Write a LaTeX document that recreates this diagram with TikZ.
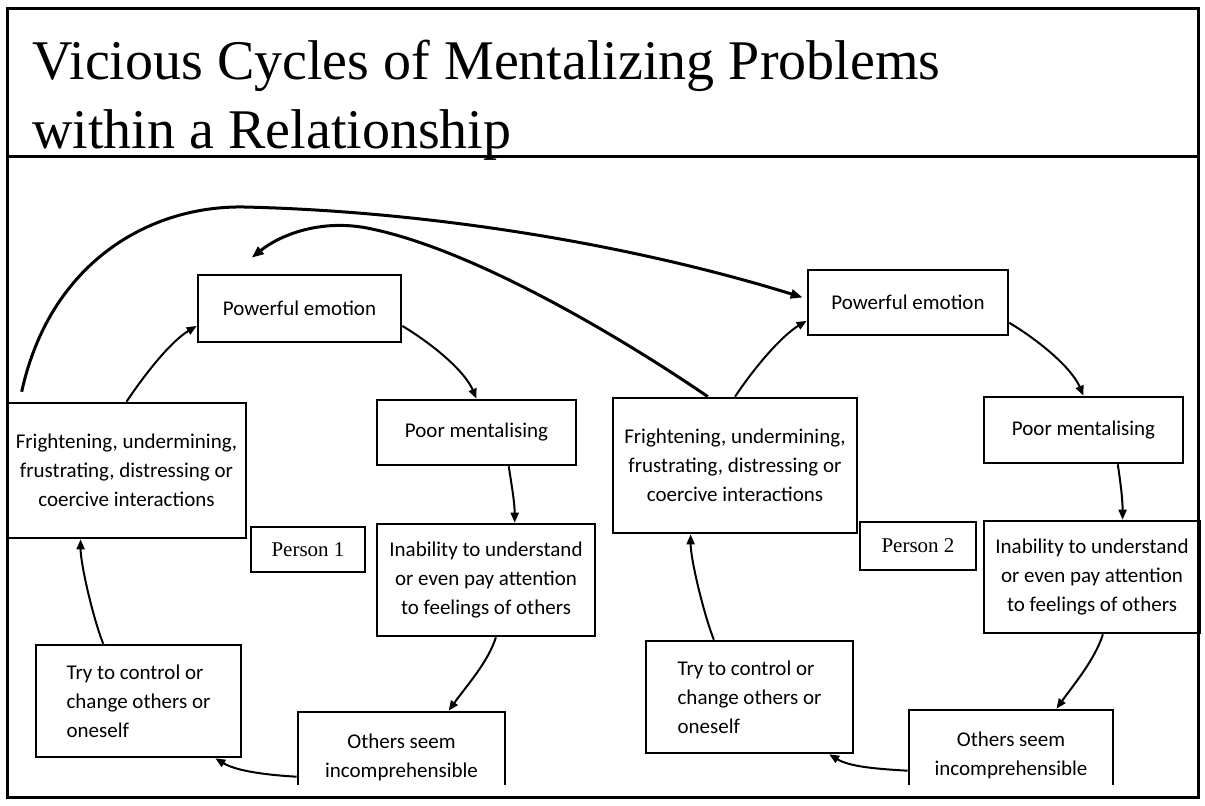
\documentclass[tikz,border=0pt]{standalone}
\usepackage{fontspec}
\setmainfont{Liberation Serif}
\newfontfamily\boxfont{Carlito}
\usetikzlibrary{arrows.meta,calc}

\tikzset{
	frame/.style={line width=1.5pt},
	box/.style={draw, line width=1.3pt, inner sep=0pt, align=center,
		font=\boxfont\fontsize{10.5}{14.5}\selectfont},
	tag/.style={draw, line width=1.3pt, inner sep=0pt, font=\fontsize{10.5}{12}\selectfont},
	link/.style={line width=1pt, -{Triangle[length=5pt,width=4pt]}},
	cross/.style={line width=1.5pt, -{Triangle[length=6pt,width=4.5pt]}}
}

\begin{document}
\begin{tikzpicture}[x=0.5pt,y=-0.5pt]
	\useasboundingbox (0,0) rectangle (1205,805);
	\draw [frame] (7,8) rectangle (1198,797);
	\draw [frame] (7,156) -- (1198,156);
	\node [anchor=north west, inner sep=0pt, align=left, font=\fontsize{28}{34.5}\selectfont] (title) at (32,40)
		{Vicious Cycles of Mentalizing Problems\\within a Relationship};

	% person 1
	\node [box, minimum width=101.5pt, minimum height=33.5pt] (pe1) at (299.5,308.5) {Powerful emotion};
	\node [box, minimum width=99.5pt, minimum height=32.5pt] (pm1) at (476.5,432.5) {Poor mentalising};
	\node [box, minimum width=119.5pt, minimum height=67.5pt] (fr1) at (126.5,470.5) {Frightening, undermining,\\frustrating, distressing or\\coercive interactions};
	\node [tag, minimum width=57pt, minimum height=22.5pt] (per1) at (308,549.5) {Person 1};
	\node [box, minimum width=109pt, minimum height=56pt] (ina1) at (486,580) {Inability to understand\\or even pay attention\\to feelings of others};
	\node [box, align=left, minimum width=102.5pt, minimum height=56pt] (try1) at (138.5,701) {Try to control or\\change others or\\oneself};

	% person 2
	\node [box, minimum width=100pt, minimum height=32.5pt] (pe2) at (908,302.5) {Powerful emotion};
	\node [box, minimum width=99.5pt, minimum height=33pt] (pm2) at (1083.5,430) {Poor mentalising};
	\node [box, minimum width=122pt, minimum height=67.5pt] (fr2) at (735,465.5) {Frightening, undermining,\\frustrating, distressing or\\coercive interactions};
	\node [tag, minimum width=58pt, minimum height=24pt] (per2) at (918,546) {Person 2};
	\node [box, minimum width=108pt, minimum height=56pt] (ina2) at (1092,577) {Inability to understand\\or even pay attention\\to feelings of others};
	\node [box, align=left, minimum width=103.5pt, minimum height=56pt] (try2) at (749.5,697) {Try to control or\\change others or\\oneself};

	% bottom boxes run off the slide
	\begin{scope}
		\clip (7,156) rectangle (1198,784);
		\node [box, minimum width=103.5pt, minimum height=45pt] (oth1) at (401.5,757) {Others seem\\incomprehensible};
		\node [box, minimum width=102pt, minimum height=45pt] (oth2) at (1011,755) {Others seem\\incomprehensible};
	\end{scope}

	% cycle 1
	\draw [link] (fr1.north) .. controls +(20,-30) and +(-25,15) .. ($(pe1.north west)!0.75!(pe1.south west)$);
	\draw [link] ($(pe1.north east)!0.75!(pe1.south east)$) .. controls +(30,18) and +(-12,-28) .. (pm1.north);
	\draw [link] ($(pm1.south west)!0.66!(pm1.south east)$) .. controls +(3,20) and +(0,-20) .. ($(ina1.north west)!0.63!(ina1.north east)$);
	\draw [link] ($(ina1.south west)!0.545!(ina1.south east)$) .. controls +(-8,25) and +(18,-25) .. ($(oth1.north west)!0.725!(oth1.north east)$);
	\draw [link] ($(oth1.north west)+(0,66)$) .. controls +(-35,-2) and +(20,12) .. ($(try1.south west)!0.87!(try1.south east)$);
	\draw [link] ($(try1.north west)!0.33!(try1.north east)$) .. controls +(-10,-25) and +(0,25) .. ($(fr1.south west)!0.31!(fr1.south east)$);

	% cycle 2
	\draw [link] (fr2.north) .. controls +(20,-30) and +(-25,15) .. ($(pe2.north west)!0.77!(pe2.south west)$);
	\draw [link] ($(pe2.north east)!0.8!(pe2.south east)$) .. controls +(30,18) and +(-12,-28) .. (pm2.north);
	\draw [link] ($(pm2.south west)!0.67!(pm2.south east)$) .. controls +(3,20) and +(0,-20) .. ($(ina2.north west)!0.64!(ina2.north east)$);
	\draw [link] ($(ina2.south west)!0.55!(ina2.south east)$) .. controls +(-8,25) and +(18,-25) .. ($(oth2.north west)!0.72!(oth2.north east)$);
	\draw [link] ($(oth2.north west)+(0,62)$) .. controls +(-35,-2) and +(20,12) .. ($(try2.south west)!0.88!(try2.south east)$);
	\draw [link] ($(try2.north west)!0.33!(try2.north east)$) .. controls +(-10,-25) and +(0,25) .. ($(fr2.south west)!0.32!(fr2.south east)$);

	% between the two persons
	\coordinate (out1) at ($(fr1.north west)+(16,-10)$);
	\coordinate (in1) at ($(pe1.north west)+(55,-16)$);
	\draw [cross] (out1) .. controls (50,262) and (150,205) .. (245,207)
		.. controls (450,212) and (650,250) .. ($(pe2.west)+(-4,-5)$);
	\draw [cross] ($(fr2.north west)!0.39!(fr2.north east)$) .. controls (640,350) and (480,250) .. (367,228)
		.. controls (320,219) and (280,235) .. (in1);
\end{tikzpicture}
\end{document}
